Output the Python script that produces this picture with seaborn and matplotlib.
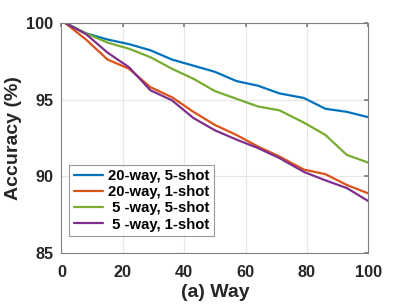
import numpy as np
import pandas as pd
import seaborn as sns
import matplotlib
matplotlib.use("Agg")
import matplotlib.pyplot as plt

# values
way = [1, 8, 15, 22, 29, 36, 43, 50, 57, 64, 71, 79, 86, 93, 100]
acc_20w5s = [100, 99.3, 98.9, 98.6, 98.2, 97.6, 97.2, 96.8, 96.2, 95.9, 95.4, 95.1, 94.4, 94.2, 93.85]
acc_20w1s = [100, 98.9, 97.6, 97.0, 95.8, 95.15, 94.2, 93.35, 92.7, 91.95, 91.3, 90.45, 90.15, 89.45, 88.9]
acc_5w5s = [100, 99.3, 98.7, 98.3, 97.75, 97.0, 96.35, 95.55, 95.05, 94.55, 94.3, 93.5, 92.7, 91.4, 90.9]
acc_5w1s = [100, 99.25, 98.05, 97.1, 95.6, 94.95, 93.8, 93.0, 92.4, 91.85, 91.2, 90.3, 89.75, 89.25, 88.4]

labels = ["20-way, 5-shot", "20-way, 1-shot", " 5 -way, 5-shot", " 5 -way, 1-shot"]
colors = ["#0072BD", "#D95319", "#77AC30", "#7E2F8E"]

rows = []
for lab, vals in zip(labels, [acc_20w5s, acc_20w1s, acc_5w5s, acc_5w1s]):
    for w, a in zip(way, vals):
        rows.append({"way": w, "acc": a, "setting": lab})
df = pd.DataFrame(rows)

sns.set_theme(style="white")
plt.rcParams["font.family"] = ["Liberation Sans", "DejaVu Sans"]
plt.rcParams["font.weight"] = "bold"

fig = plt.figure(figsize=(4.07, 3.05), dpi=100)
ax = fig.add_axes([0.151, 0.169, 0.754, 0.757])

sns.lineplot(data=df, x="way", y="acc", hue="setting", hue_order=labels,
             palette=colors, linewidth=1.6, ax=ax)

ax.set_xlim(0, 100)
ax.set_ylim(85, 100)
ax.set_xticks([0, 20, 40, 60, 80, 100])
ax.set_yticks([85, 90, 95, 100])
ax.grid(True, color="#e6e6e6", linewidth=0.8)
ax.set_axisbelow(True)
for s in ax.spines.values():
    s.set_color("#808080")
    s.set_linewidth(0.8)
ax.tick_params(direction="in", length=3, color="#808080", top=True, right=True,
               labelsize=11.7, labelcolor="#262626")
ax.tick_params(axis="x", pad=8)
ax.tick_params(axis="y", pad=6)
for t in ax.get_xticklabels() + ax.get_yticklabels():
    t.set_fontweight("bold")

ax.set_xlabel("(a) Way", fontsize=14, fontweight="bold", color="#262626", labelpad=3)
ax.set_ylabel("Accuracy (%)", fontsize=14, fontweight="bold", color="#262626", labelpad=3)

leg = ax.legend(loc="lower left", bbox_to_anchor=(0.025, 0.075), fontsize=10.7,
                frameon=True, fancybox=False, handlelength=2.0, handletextpad=0.3,
                borderpad=0.3, labelspacing=0.15, borderaxespad=0)
leg.get_frame().set_edgecolor("#808080")
leg.get_frame().set_linewidth(0.8)
for t in leg.get_texts():
    t.set_fontweight("bold")
    t.set_color("#000000")

fig.savefig("out.png", dpi=100)
